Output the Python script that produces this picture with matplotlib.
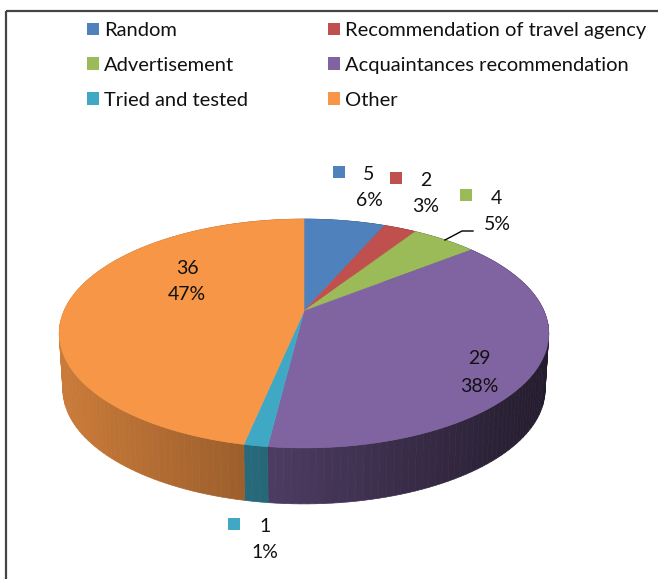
import numpy as np
import matplotlib
matplotlib.use("Agg")
import matplotlib.pyplot as plt
from matplotlib.patches import Patch, Polygon, Rectangle
from matplotlib.lines import Line2D

categories = ["Random", "Recommendation of travel agency", "Advertisement",
              "Acquaintances recommendation", "Tried and tested", "Other"]
values = [5, 2, 4, 29, 1, 36]
colors = ["#4F81BD", "#C0504D", "#9BBB59", "#8064A2", "#3FA9C5", "#F79646"]

plt.rcParams["font.family"] = ["Lato", "DejaVu Sans"]
W, H = 658, 579
fig = plt.figure(figsize=(W / 100, H / 100), dpi=100)
ax = fig.add_axes([0, 0, 1, 1])
ax.set_xlim(0, W)
ax.set_ylim(H, 0)
ax.axis("off")

# Projection of the unit pie disc with perspective
CX, CY, A, B, K = 304, 311, 240, 110, 0.1965
DEPTH = 56


def project(theta, r=1.0, drop=0.0, shrink=1.0):
    X, Y = r * np.sin(theta), r * np.cos(theta)
    d = 1 + K * Y
    return CX + shrink * A * X / d, CY - B * Y / d + drop


def side_shade(x):
    return np.interp(x, [60, 245, 549], [0.82, 0.63, 0.28])


total = sum(values)
edges = 2 * np.pi * np.cumsum([0] + values) / total

# Sides
for i, v in enumerate(values):
    n = max(2, int(v * 3))
    th = np.linspace(edges[i], edges[i + 1], n + 1)
    base = np.array(matplotlib.colors.to_rgb(colors[i]))
    for a, b in zip(th[:-1], th[1:]):
        x1, y1 = project(a)
        x2, y2 = project(b)
        x3, y3 = project(b, drop=DEPTH, shrink=0.985)
        x4, y4 = project(a, drop=DEPTH, shrink=0.985)
        c = base * side_shade((x1 + x2) / 2)
        ax.add_patch(Polygon([(x1, y1), (x2, y2), (x3, y3), (x4, y4)],
                             closed=True, facecolor=c, edgecolor=c, lw=0.5, zorder=2))

# Top faces
for i, v in enumerate(values):
    th = np.linspace(edges[i], edges[i + 1], max(8, v * 8))
    xs, ys = project(th)
    pts = [(CX, CY)] + list(zip(xs, ys))
    ax.add_patch(Polygon(pts, closed=True, facecolor=colors[i], edgecolor=colors[i],
                         lw=0.4, zorder=3))

# Data labels: marker and text positions
marker_xy = [(339, 172), (396, 178), (466, 195), (444, 358), (234, 524), (175, 267)]
value_xy = [(369, 174), (426, 180), (496, 198), (479, 359), (265, 526), (187, 268)]
pct_xy = [(369, 200), (426, 207), (497, 225), (479, 386), (265, 553), (187, 295)]
FS = 14
for i, v in enumerate(values):
    mx, my = marker_xy[i]
    ax.add_patch(Rectangle((mx - 6, my - 6), 12, 12, facecolor=colors[i],
                           edgecolor="none", zorder=4))
    ax.text(*value_xy[i], str(v), ha="center", va="center", fontsize=FS, color="#111111", zorder=5)
    ax.text(*pct_xy[i], f"{v / total:.0%}", ha="center", va="center", fontsize=FS,
            color="#111111", zorder=5)

# Leader line for the Advertisement label
ax.add_line(Line2D([445, 462, 473], [240, 231, 231], color="black", lw=1.0, zorder=4))

# Frame
frame = dict(color="#444444", lw=1.6, solid_capstyle="butt", zorder=6)
ax.add_line(Line2D([6, 658], [11, 11], **frame))
ax.add_line(Line2D([6, 6], [11, 579], **frame))

# Legend
order = [0, 2, 4, 1, 3, 5]
handles = [Patch(facecolor=colors[i], edgecolor="none") for i in order]
labels = [categories[i] for i in order]
ax.legend(handles, labels, ncol=2, loc="upper left", bbox_to_anchor=(0.132, 0.962),
          frameon=False, fontsize=14.5, handlelength=0.6, handleheight=0.6,
          handletextpad=0.24, columnspacing=4.0, labelspacing=0.89,
          borderpad=0, borderaxespad=0, labelcolor="#111111")

fig.savefig("out.png", dpi=100)
